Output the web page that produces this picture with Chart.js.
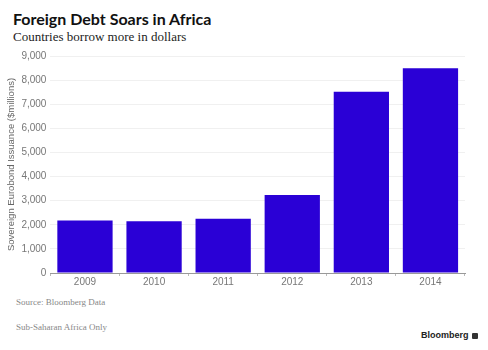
<!DOCTYPE html>
<html>
<head>
<meta charset="utf-8">
<script src="https://cdn.jsdelivr.net/npm/chart.js@4/dist/chart.umd.min.js"></script>
<style>
  body { margin: 0; background: #fff; width: 488px; height: 350px; position: relative; overflow: hidden; }
  .title { position: absolute; left: 13px; top: 9px; font: bold 16px Lato, sans-serif; color: #111; }
  .sub { position: absolute; left: 13px; top: 29px; font: 13px "Liberation Serif", serif; color: #222; }
  .note { position: absolute; left: 16px; font: 9px "Liberation Serif", serif; color: #888; }
  .logo { position: absolute; left: 421px; top: 330px; font: bold 9px "Liberation Sans", sans-serif; color: #222; }
  .logo span { display: inline-block; width: 6px; height: 6px; background: #333; border-radius: 1px; margin-left: 3px; vertical-align: -1px; }
  #wrap { position: absolute; left: 0; top: 46px; width: 488px; height: 242px; }
</style>
</head>
<body>
<div class="title">Foreign Debt Soars in Africa</div>
<div class="sub">Countries borrow more in dollars</div>
<div id="wrap"><canvas id="chart"></canvas></div>
<div class="note" style="top:297px">Source: Bloomberg Data</div>
<div class="note" style="top:322px">Sub-Saharan Africa Only</div>
<div class="logo">Bloomberg<span></span></div>
<script>
const years = ['2009', '2010', '2011', '2012', '2013', '2014'];
const issuance = [2180, 2150, 2250, 3240, 7520, 8490];
const yTicks = [0, 1000, 2000, 3000, 4000, 5000, 6000, 7000, 8000, 9000];

document.addEventListener('DOMContentLoaded', () => {
    const ctx = document.getElementById('chart').getContext('2d');
    new Chart(ctx, {
        type: 'bar',
        data: {
            labels: years,
            datasets: [{
                label: 'Sovereign Eurobond Issuance',
                data: issuance,
                backgroundColor: '#2a00d6',
                borderWidth: 0,
                barPercentage: 0.8,
                categoryPercentage: 1
            }]
        },
        options: {
            responsive: true,
            maintainAspectRatio: false,
            animation: false,
            layout: { padding: { top: 5.5, right: 23, left: 6, bottom: 0 } },
            plugins: { legend: { display: false }, tooltip: { enabled: false } },
            scales: {
                x: {
                    grid: { display: true, drawOnChartArea: false, tickLength: 3, color: '#bbb' },
                    border: { color: '#999' },
                    ticks: { color: '#777', font: { family: 'Liberation Sans', size: 10 }, padding: 0 }
                },
                y: {
                    min: 0,
                    max: 9000,
                    afterBuildTicks: axis => { axis.ticks = yTicks.map(v => ({ value: v })); },
                    grid: { color: '#f0f0f0', drawTicks: false },
                    border: { display: false },
                    ticks: {
                        color: '#777',
                        padding: 4,
                        font: { family: 'Liberation Sans', size: 10 },
                        callback: v => v.toLocaleString('en-US')
                    },
                    title: {
                        display: true,
                        text: 'Sovereign Eurobond Issuance ($millions)',
                        color: '#666',
                        padding: 0,
                        font: { family: 'Liberation Sans', size: 9.5 }
                    }
                }
            }
        }
    });
});
</script>
</body>
</html>
